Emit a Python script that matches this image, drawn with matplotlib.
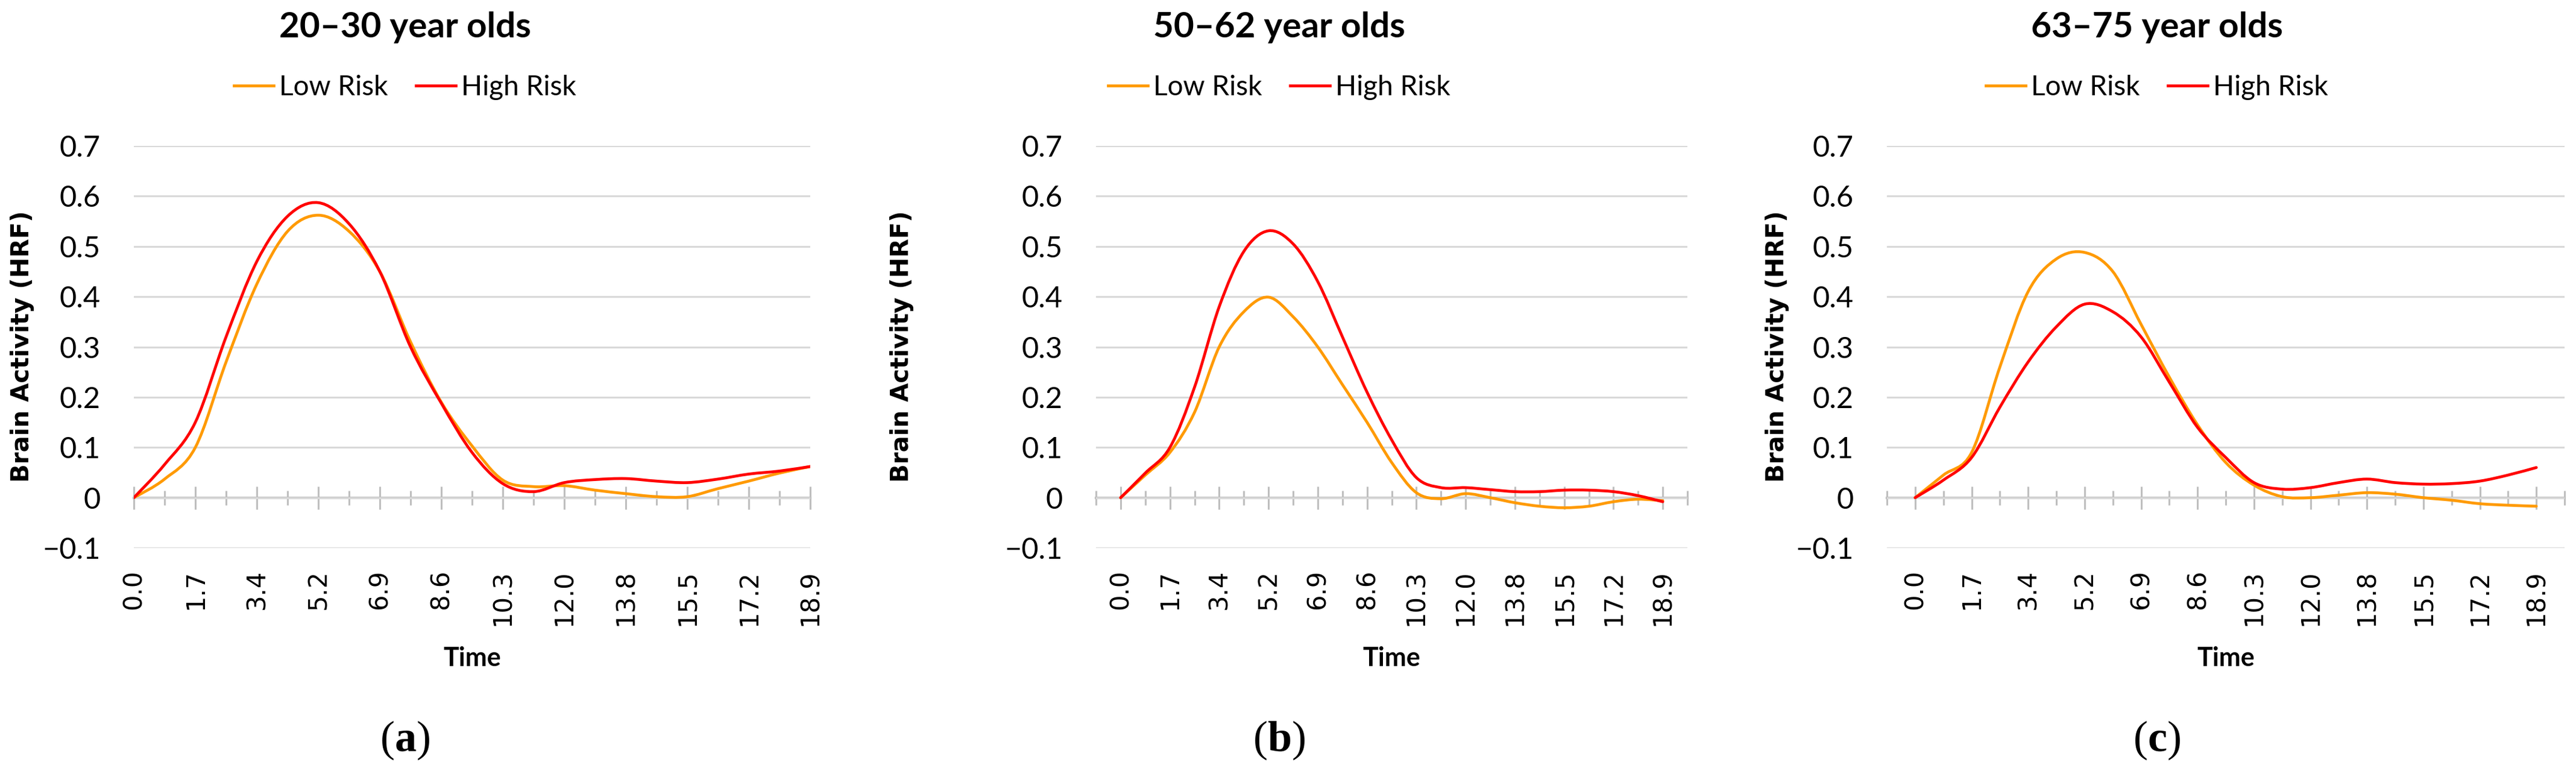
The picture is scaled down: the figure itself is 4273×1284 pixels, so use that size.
import numpy as np
import matplotlib
matplotlib.use("Agg")
import matplotlib.pyplot as plt
from matplotlib.path import Path
from matplotlib.patches import PathPatch
from matplotlib.lines import Line2D

plt.rcParams['mathtext.fontset'] = 'custom'
plt.rcParams['mathtext.rm'] = 'Liberation Serif'
plt.rcParams['mathtext.bf'] = 'Liberation Serif:bold'

# category labels of the time axis (every second point is labelled)
time_labels = ["0.0", "1.7", "3.4", "5.2", "6.9", "8.6", "10.3",
               "12.0", "13.8", "15.5", "17.2", "18.9"]
ytick_labels = ["\u22120.1", "0", "0.1", "0.2", "0.3", "0.4", "0.5", "0.6", "0.7"]
series_names = ["Low Risk", "High Risk"]

# 20-30 year olds
low_a = [0.0, 0.037, 0.10, 0.27, 0.425, 0.53, 0.562, 0.53, 0.45, 0.31, 0.19,
         0.103, 0.035, 0.022, 0.024, 0.015, 0.008, 0.002, 0.002, 0.018, 0.033,
         0.049, 0.062]
high_a = [0.0, 0.066, 0.15, 0.32, 0.47, 0.56, 0.587, 0.545, 0.45, 0.30, 0.188,
          0.09, 0.028, 0.012, 0.03, 0.036, 0.038, 0.033, 0.03, 0.037, 0.047,
          0.053, 0.062]
# 50-62 year olds
low_b = [0.0, 0.045, 0.09, 0.17, 0.30, 0.37, 0.399, 0.36, 0.30, 0.225, 0.15,
         0.07, 0.01, -0.002, 0.008, 0.0, -0.01, -0.017, -0.02, -0.017, -0.008,
         -0.003, -0.006]
high_b = [0.0, 0.049, 0.10, 0.22, 0.38, 0.49, 0.531, 0.505, 0.43, 0.32, 0.21,
          0.115, 0.04, 0.02, 0.02, 0.016, 0.012, 0.012, 0.015, 0.015, 0.012,
          0.004, -0.008]
# 63-75 year olds
low_c = [0.0, 0.045, 0.09, 0.26, 0.41, 0.475, 0.488, 0.45, 0.345, 0.24, 0.145,
         0.07, 0.025, 0.002, 0.0, 0.005, 0.01, 0.007, 0.0, -0.005, -0.012,
         -0.015, -0.017]
high_c = [0.0, 0.035, 0.08, 0.18, 0.27, 0.34, 0.385, 0.37, 0.32, 0.23, 0.14,
          0.08, 0.03, 0.017, 0.02, 0.03, 0.037, 0.03, 0.027, 0.028, 0.033,
          0.045, 0.06]

titles = ["20\u201330 year olds", "50\u201362 year olds", "63\u201375 year olds"]
captions = ["a", "b", "c"]

W, H = 4273, 1284
LOW_COL = "#FF9A00"
HIGH_COL = "#FF0000"
CALIBRI = ["Lato", "DejaVu Sans"]


def fx(px):
    return px / W


def fy(py):
    return 1 - py / H


def smooth_path(xs, ys):
    # Excel style smoothed line: cubic bezier through every point
    n = len(xs)
    verts = [(xs[0], ys[0])]
    codes = [Path.MOVETO]
    for i in range(n - 1):
        p0 = max(i - 1, 0)
        p3 = min(i + 2, n - 1)
        c1 = (xs[i] + (xs[i + 1] - xs[p0]) / 6, ys[i] + (ys[i + 1] - ys[p0]) / 6)
        c2 = (xs[i + 1] - (xs[p3] - xs[i]) / 6, ys[i + 1] - (ys[p3] - ys[i]) / 6)
        verts += [c1, c2, (xs[i + 1], ys[i + 1])]
        codes += [Path.CURVE4] * 3
    return Path(verts, codes)


# pixel layout of each panel: axis left, axis right, x pad, title centre, ylabel centre
layout = [
    dict(x0=222, x1=1344, pad=0, tcx=672, ycx=37),
    dict(x0=1818, x1=2799, pad=1, tcx=2122, ycx=1496),
    dict(x0=3130, x1=4254, pad=1, tcx=3578, ycx=2948),
]
data = [(low_a, high_a), (low_b, high_b), (low_c, high_c)]

fig = plt.figure(figsize=(W / 100, H / 100), dpi=100)

for k in range(3):
    L = layout[k]
    low, high = data[k]
    n = len(low)
    xs = np.arange(n)
    ax = fig.add_axes([fx(L["x0"]), fy(909), fx(L["x1"] - L["x0"]), (909 - 242) / H])
    ax.set_xlim(-L["pad"], n - 1 + L["pad"])
    ax.set_ylim(-0.1, 0.7)
    for s in ax.spines.values():
        s.set_visible(False)

    yt = np.round(np.arange(-0.1, 0.71, 0.1), 1)
    ax.set_yticks(yt)
    ax.set_yticklabels(ytick_labels, fontsize=35, family=CALIBRI)
    ax.tick_params(axis='y', length=0, pad=40)
    ax.grid(axis='y', color='#d9d9d9', lw=2.2)
    ax.set_axisbelow(True)

    major = np.arange(0, n, 2)
    ax.set_xticks(major)
    ax.set_xticklabels(time_labels, rotation=90, fontsize=30, family="DejaVu Sans")
    ax.tick_params(axis='x', length=0, pad=26)

    # category axis drawn through y = 0 with crossing tick marks
    sec = ax.secondary_xaxis(0.125)
    sec.set_xticks(major)
    sec.set_xticks([i for i in range(-L["pad"], n + L["pad"]) if i % 2 != 0], minor=True)
    sec.tick_params(which='major', direction='inout', length=27, width=2.2,
                    color='#bfbfbf', labelbottom=False)
    sec.tick_params(which='minor', direction='inout', length=17, width=2.2,
                    color='#bfbfbf')
    sec.spines['bottom'].set_color('#bfbfbf')
    sec.spines['bottom'].set_linewidth(3)

    ax.add_patch(PathPatch(smooth_path(xs, low), fill=False, edgecolor=LOW_COL,
                           lw=3.4, zorder=5, capstyle='round'))
    ax.add_patch(PathPatch(smooth_path(xs, high), fill=False, edgecolor=HIGH_COL,
                           lw=3.4, zorder=6, capstyle='round'))

    handles = [Line2D([], [], color=LOW_COL, lw=3.4), Line2D([], [], color=HIGH_COL, lw=3.4)]
    ax.legend(handles, series_names, loc='center', ncol=2, frameon=False,
              bbox_to_anchor=(fx(L["tcx"]), fy(145)), bbox_transform=fig.transFigure,
              prop=dict(family=CALIBRI, size=33), handlelength=1.45,
              handletextpad=0.2, columnspacing=1.0)

    fig.text(fx(L["tcx"]), fy(45), titles[k], ha='center', va='center',
             fontsize=42, fontweight='bold', family=CALIBRI)
    fig.text(fx(L["ycx"]), fy(575), "Brain Activity (HRF)", rotation=90,
             ha='center', va='center', fontsize=29, fontweight='bold',
             family="DejaVu Sans")
    fig.text(fx((L["x0"] + L["x1"]) / 2), fy(1092), "Time", ha='center',
             va='center', fontsize=31, fontweight='bold', family=CALIBRI)
    fig.text(fx(L["tcx"]), fy(1228), "($\\mathbf{" + captions[k] + "}$)",
             ha='center', va='center', fontsize=52, family="Liberation Serif")

fig.savefig("out.png", dpi=100, facecolor='white')
